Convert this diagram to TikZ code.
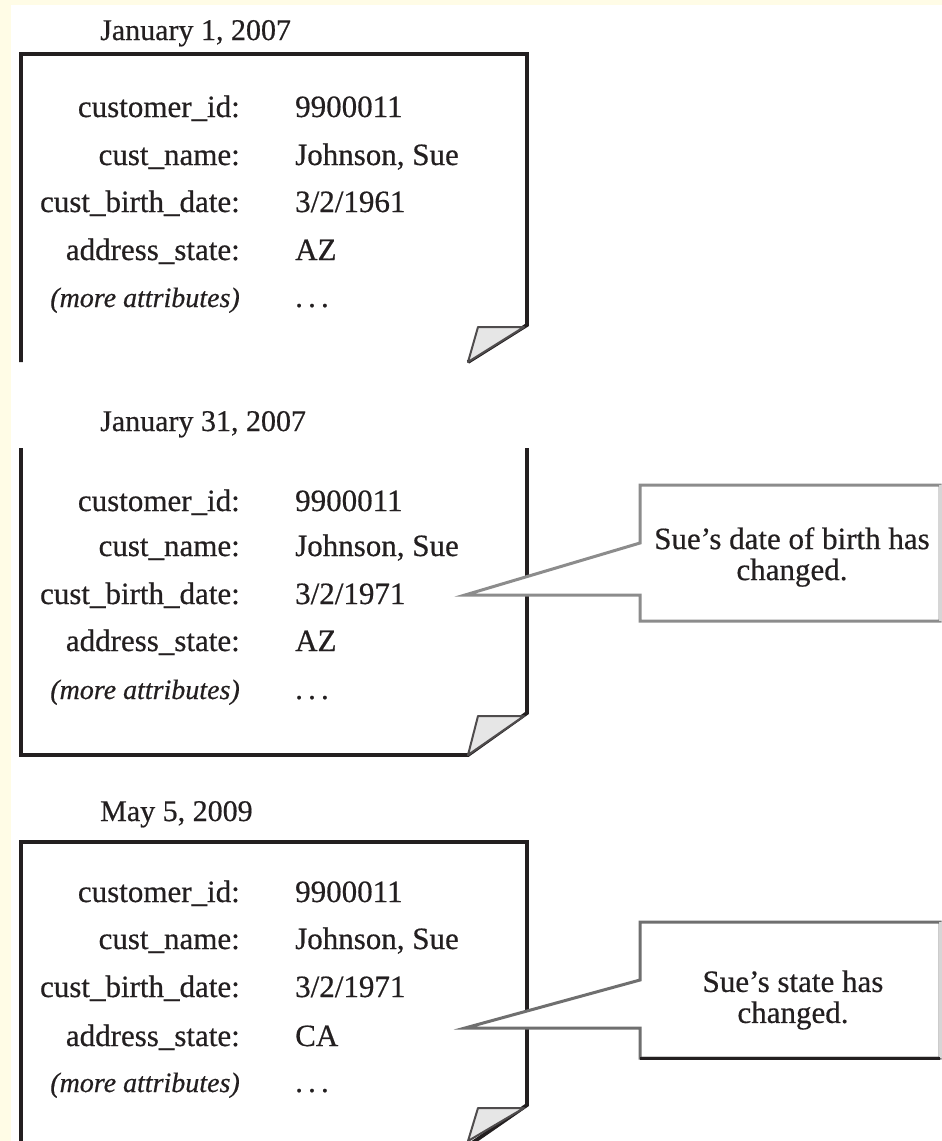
\documentclass[tikz,border=0pt]{standalone}
\usepackage{fontspec}
\setmainfont{Liberation Serif}[FakeBold=0.5]
\definecolor{paper}{HTML}{FFFCE6}
\definecolor{ink}{HTML}{231F20}
\definecolor{flapgray}{HTML}{E6E6E6}
\definecolor{edgegray}{HTML}{6F6F6F}
\definecolor{softgray}{HTML}{8C8C8C}
\definecolor{lightedge}{HTML}{D6D6D6}
\tikzset{
  frame/.style={draw=ink, line width=3.8pt, line join=miter},
  flap/.style={draw=ink!80, fill=flapgray, line width=2pt, line join=round},
  bubble/.style={fill=white, draw=edgegray, line width=3pt, line join=miter},
  bubblesoft/.style={fill=white, draw=softgray, line width=3pt, line join=miter},
  lbl/.style={anchor=base east, inner sep=0pt, text=ink, font=\fontsize{31}{31}\selectfont},
  val/.style={anchor=base west, inner sep=0pt, text=ink, font=\fontsize{31}{31}\selectfont},
  more/.style={anchor=base east, inner sep=0pt, text=ink, font=\fontsize{28}{28}\selectfont\itshape},
  datehead/.style={anchor=base west, inner sep=0pt, text=ink, font=\fontsize{30}{30}\selectfont},
  note/.style={align=center, inner sep=0pt, text=ink, font=\fontsize{31}{31}\selectfont}
}
\begin{document}
\begin{tikzpicture}[x=1pt, y=-1pt]
\useasboundingbox (0,0) rectangle (942,1141);
\clip (0,0) rectangle (942,1141);
\fill[paper] (0,0) rectangle (942,1141);
\fill[white] (11,5) rectangle (942,1141);

% ---------- record of January 1, 2007 ----------
\node[datehead] (d1) at (100,40) {January 1, 2007};
\draw[frame] (21,362) -- (21,54) -- (527,54) -- (527,325) -- (468,362);
\draw[flap] (478,327) -- (524,327) -- (468,362) -- cycle;
\node[lbl] (a1) at (240,117) {customer\_id:};
\node[val] (v1a) at (295,117) {9900011};
\node[lbl] (b1) at (240,165) {cust\_name:};
\node[val] (v1b) at (295,165) {Johnson, Sue};
\node[lbl] (c1) at (240,212) {cust\_birth\_date:};
\node[val] (v1c) at (295,212) {3/2/1961};
\node[lbl] (e1) at (240,260) {address\_state:};
\node[val] (v1e) at (295,260) {AZ};
\node[more] (f1) at (240,307) {(more attributes)};
\node[val] (v1f) at (295,307) {.\,.\,.};

% ---------- record of January 31, 2007 ----------
\node[datehead] (d2) at (100,431) {January 31, 2007};
\draw[frame] (21,448) -- (21,755) -- (468,755) -- (527,713) -- (527,448);
\draw[flap] (478,716) -- (524,716) -- (468,755) -- cycle;
\node[lbl] (a2) at (240,511) {customer\_id:};
\node[val] (v2a) at (295,511) {9900011};
\node[lbl] (b2) at (240,556) {cust\_name:};
\node[val] (v2b) at (295,556) {Johnson, Sue};
\node[lbl] (c2) at (240,604) {cust\_birth\_date:};
\node[val] (v2c) at (295,604) {3/2/1971};
\node[lbl] (e2) at (240,651) {address\_state:};
\node[val] (v2e) at (295,651) {AZ};
\node[more] (f2) at (240,699) {(more attributes)};
\node[val] (v2f) at (295,699) {.\,.\,.};

% callout: birth date change
\coordinate (p2) at (465,595);
\draw[bubblesoft] (640,543) -- (640,485) -- (940,485) -- (940,621) -- (640,621) -- (640,595) -- (p2) -- cycle;
\draw[lightedge, line width=3pt] (940,485) -- (940,621);
\node[note] (n2) at (792,557) {Sue’s date of birth has\\changed.};

% ---------- record of May 5, 2009 ----------
\node[datehead] (d3) at (100,821) {May 5, 2009};
\draw[frame] (21,1150) -- (21,842) -- (527,842) -- (527,1105) -- (462,1150);
\draw[flap] (478,1108) -- (524,1108) -- (468,1141) -- cycle;
\node[lbl] (a3) at (240,902) {customer\_id:};
\node[val] (v3a) at (295,902) {9900011};
\node[lbl] (b3) at (240,949) {cust\_name:};
\node[val] (v3b) at (295,949) {Johnson, Sue};
\node[lbl] (c3) at (240,997) {cust\_birth\_date:};
\node[val] (v3c) at (295,997) {3/2/1971};
\node[lbl] (e3) at (240,1046) {address\_state:};
\node[val] (v3e) at (295,1046) {CA};
\node[more] (f3) at (240,1092) {(more attributes)};
\node[val] (v3f) at (295,1092) {.\,.\,.};

% callout: state change
\coordinate (p3) at (465,1028);
\draw[bubble] (640,980) -- (640,922) -- (940,922) -- (940,1058) -- (640,1058) -- (640,1028) -- (p3) -- cycle;
\draw[lightedge, line width=3pt] (940,922) -- (940,1058);
\draw[ink, line width=3pt] (640,1058) -- (940,1058);
\node[note] (n3) at (793,1000) {Sue’s state has\\changed.};
\end{tikzpicture}
\end{document}
